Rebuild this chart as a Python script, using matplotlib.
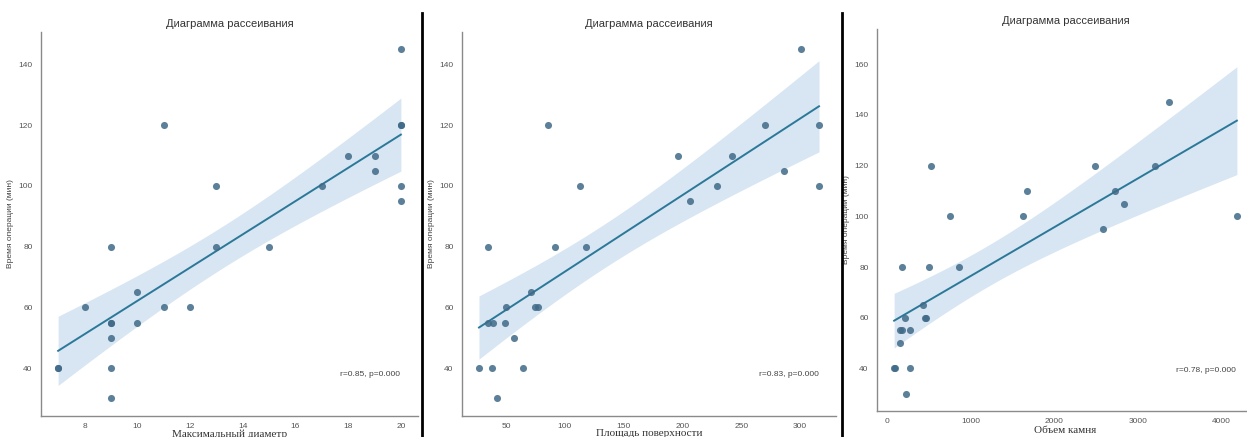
import numpy as np
import matplotlib

matplotlib.use("Agg")
import matplotlib.pyplot as plt
from matplotlib.lines import Line2D

# operation time (min), shared by the three panels
op_time = [30, 40, 40, 40, 50, 55, 55, 55, 60, 60, 60, 65, 80, 80, 80,
           95, 100, 100, 100, 105, 110, 110, 120, 120, 120, 145]
max_diam = [9, 7, 7, 9, 9, 9, 9, 10, 8, 11, 12, 10, 9, 13, 15,
            20, 13, 17, 20, 19, 18, 19, 11, 20, 20, 20]
surf_area = [42, 27, 38, 64, 57, 35, 39, 49, 50, 75, 77, 71, 35, 92, 118,
             206, 113, 229, 316, 286, 196, 242, 86, 270, 316, 301]
stone_vol = [228, 80, 88, 267, 156, 152, 180, 267, 208, 451, 467, 427, 172, 495, 862,
             2579, 750, 1621, 4184, 2830, 1673, 2723, 519, 2487, 3202, 3373]

x_labels = ["Максимальный диаметр", "Площадь поверхности", "Объем камня"]
stat_labels = ["r=0.85, p=0.000", "r=0.83, p=0.000", "r=0.78, p=0.000"]
x_ticks = [[8, 10, 12, 14, 16, 18, 20], [50, 100, 150, 200, 250, 300], [0, 1000, 2000, 3000, 4000]]
y_ticks = [[40, 60, 80, 100, 120, 140], [40, 60, 80, 100, 120, 140], [40, 60, 80, 100, 120, 140, 160]]
y_lims = [(24.2, 150.7), (24.2, 150.7), (23.2, 173.9)]
title = "Диаграмма рассеивания"
y_label = "Время операции (мин)"

T_975 = 2.064  # t quantile, df = 24

PT_COLOR = "#3f6a88"
LINE_COLOR = "#2c7899"
BAND_COLOR = "#d7e6f2"

W, H = 1247, 437
fig = plt.figure(figsize=(W / 100, H / 100), dpi=100)

# axes boxes in pixels: left, top, right, bottom
boxes = [(41, 32, 418, 416), (462, 32, 836, 416), (877, 29, 1254, 411)]
xlab_pads = [-0.6, -0.6, 0.5]
xs_all = [max_diam, surf_area, stone_vol]

sans = "Liberation Sans"
serif = "Liberation Serif"

for box, xd, xl, st, xt, yt, yl, lp in zip(boxes, xs_all, x_labels, stat_labels,
                                           x_ticks, y_ticks, y_lims, xlab_pads):
    l, t, r, b = box
    ax = fig.add_axes([l / W, 1 - b / H, (r - l) / W, (b - t) / H])
    x = np.asarray(xd, float)
    y = np.asarray(op_time, float)

    slope, icpt = np.polyfit(x, y, 1)
    grid = np.linspace(x.min(), x.max(), 100)
    fit = icpt + slope * grid
    resid = y - (icpt + slope * x)
    n = len(x)
    s = np.sqrt((resid ** 2).sum() / (n - 2))
    se = s * np.sqrt(1 / n + (grid - x.mean()) ** 2 / ((x - x.mean()) ** 2).sum())

    ax.fill_between(grid, fit - T_975 * se, fit + T_975 * se, color=BAND_COLOR, lw=0)
    ax.scatter(x, y, s=26, color=PT_COLOR, alpha=0.85, lw=0, zorder=3)
    ax.plot(grid, fit, color=LINE_COLOR, lw=1.4, zorder=2)

    ax.set_xticks(xt)
    ax.set_yticks(yt)
    ax.set_ylim(*yl)
    for sp in ("top", "right"):
        ax.spines[sp].set_visible(False)
    for sp in ("left", "bottom"):
        ax.spines[sp].set_color("#8a8a8a")
        ax.spines[sp].set_linewidth(1.0)
    ax.tick_params(length=0, pad=6, labelsize=6, labelcolor="#555555")
    ax.tick_params(axis="x", pad=5)
    for lab in ax.get_xticklabels() + ax.get_yticklabels():
        lab.set_family(sans)

    ax.set_title(title, fontsize=8, color="#333333", family=sans, pad=3.5)
    ax.set_ylabel(y_label, fontsize=6, color="#444444", family=sans, labelpad=3)
    ax.set_xlabel(xl, fontsize=8, color="#333333", family=serif, labelpad=lp)
    ax.text(0.953, 0.107, st, transform=ax.transAxes, ha="right", va="center",
            fontsize=6, color="#444444", family=sans)

# black separators between the screenshots
for xp in (422, 842):
    fig.add_artist(Line2D([xp / W, xp / W], [0, 1 - 13 / H], color="black", lw=2.0))

fig.savefig("out.png", dpi=100)
